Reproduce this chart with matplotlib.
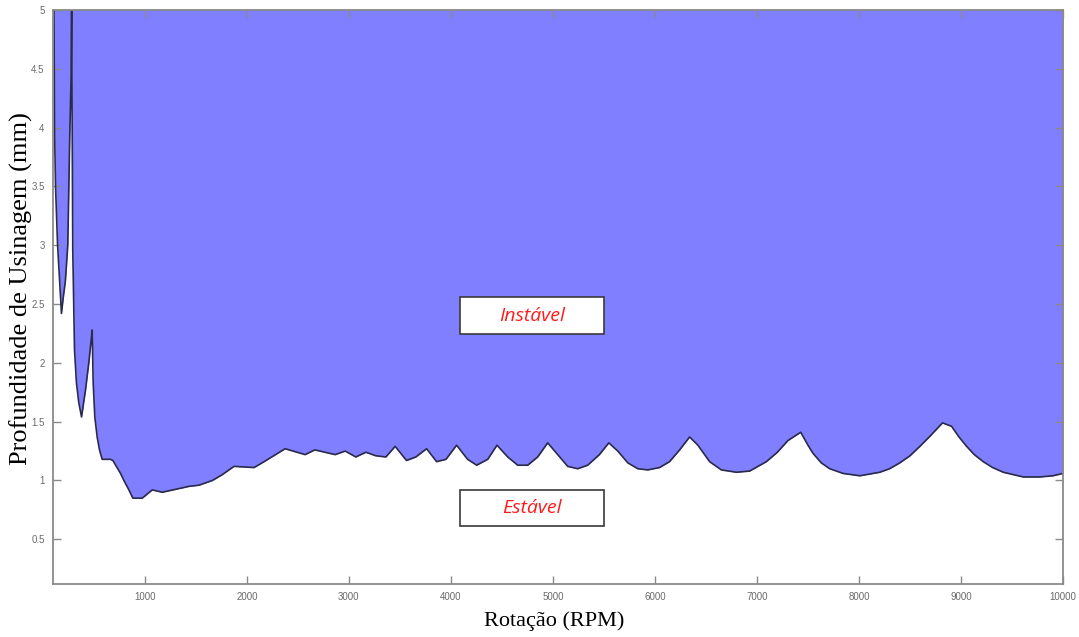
import matplotlib
matplotlib.use("Agg")
import matplotlib.pyplot as plt
from matplotlib.patches import Rectangle

# ---- data ----
rpm = [110, 115, 125, 145, 165, 183, 200, 222, 245, 265, 278, 281,
       285, 286, 294, 311, 330, 353, 380, 419, 451, 474, 484,
       494, 510, 533, 556, 582, 664, 687, 762, 795, 844, 883, 975,
       1073, 1171, 1433, 1531, 1662, 1760, 1874, 2071, 2169, 2375,
       2571, 2666, 2866, 2964, 3068, 3167, 3265, 3363, 3454, 3565,
       3657, 3762, 3860, 3952, 4056, 4164, 4253, 4361, 4452, 4557,
       4655, 4753, 4851, 4949, 5047, 5145, 5243, 5341, 5456, 5548,
       5636, 5734, 5832, 5930, 6045, 6143, 6242, 6340, 6421, 6536,
       6651, 6798, 6928, 7092, 7200, 7304, 7429, 7500, 7550, 7630, 7713,
       7844, 8008, 8204, 8300, 8400, 8500, 8597, 8700, 8819, 8908,
       8980, 9055, 9130, 9218, 9310, 9414, 9610, 9774, 9900, 10000]
depth = [5.0, 4.0, 3.5, 3.0, 2.7, 2.42, 2.55, 2.7, 3.0, 3.95, 4.45, 5.0,
         5.0, 4.4, 2.96, 2.11, 1.83, 1.66, 1.54, 1.77, 2.0, 2.19, 2.28,
         1.83, 1.54, 1.37, 1.26, 1.18, 1.18, 1.17, 1.06, 1.0, 0.92, 0.85, 0.85,
         0.92, 0.90, 0.95, 0.96, 1.0, 1.05, 1.12, 1.11, 1.16, 1.27,
         1.22, 1.26, 1.22, 1.25, 1.20, 1.24, 1.21, 1.20, 1.29, 1.17,
         1.20, 1.27, 1.16, 1.18, 1.30, 1.18, 1.13, 1.18, 1.30, 1.20,
         1.13, 1.13, 1.20, 1.32, 1.22, 1.12, 1.10, 1.13, 1.22, 1.32,
         1.25, 1.15, 1.10, 1.09, 1.11, 1.16, 1.26, 1.37, 1.30, 1.16,
         1.09, 1.07, 1.08, 1.16, 1.24, 1.34, 1.41, 1.30, 1.23, 1.15, 1.10,
         1.06, 1.04, 1.07, 1.10, 1.15, 1.21, 1.29, 1.38, 1.49, 1.46,
         1.37, 1.29, 1.22, 1.16, 1.11, 1.07, 1.03, 1.03, 1.04, 1.06]

x_ticks = [1000, 2000, 3000, 4000, 5000, 6000, 7000, 8000, 9000, 10000]
y_ticks = [0.5, 1, 1.5, 2, 2.5, 3, 3.5, 4, 4.5, 5]
y_tick_labels = ["0.5", "1", "1.5", "2", "2.5", "3", "3.5", "4", "4.5", "5"]
region_labels = ["Instável", "Estável"]

# ---- figure ----
fig = plt.figure(figsize=(10.79, 6.37), dpi=100)
ax = fig.add_axes([0.0491, 0.0832, 0.9361, 0.9011])

ax.fill_between(rpm, depth, 6.0, color="#7f7fff", linewidth=0)
ax.plot(rpm, depth, color="#2a2a4a", linewidth=1.2)

ax.set_xlim(100, 10000)
ax.set_ylim(0.12, 5.0)

ax.set_xticks(x_ticks)
ax.set_xticklabels([str(v) for v in x_ticks])
ax.set_yticks(y_ticks)
ax.set_yticklabels(y_tick_labels)

grey = "#8a8a8a"
for s in ax.spines.values():
    s.set_color(grey)
    s.set_linewidth(1.3)
ax.tick_params(direction="in", length=6, width=1.0, color=grey,
               labelcolor="#6a6a6a", labelsize=7, top=True, right=True,
               pad=6)
for lbl in ax.get_xticklabels() + ax.get_yticklabels():
    lbl.set_family("Liberation Sans")

fig.text(554 / 1079, 1 - 621 / 637, "Rotação (RPM)", family="Liberation Serif",
         fontsize=16, ha="center", va="center")
fig.text(21 / 1079, 1 - 289 / 637, "Profundidade de Usinagem (mm)",
         family="Liberation Serif", fontsize=19, rotation=90,
         ha="center", va="center")

# region label boxes
box_x0, box_w = 4092, 1404
for (y0, h, yc, txt) in [(2.245, 0.315, 2.40, region_labels[0]),
                         (0.612, 0.306, 0.765, region_labels[1])]:
    ax.add_patch(Rectangle((box_x0, y0), box_w, h, facecolor="white",
                           edgecolor="#3a3a3a", linewidth=1.2, zorder=5))
    ax.text(box_x0 + box_w / 2, yc, txt, color="#ff1a1a", style="italic",
            family="Open Sans", fontsize=14, ha="center", va="center",
            zorder=6)

fig.savefig("out.png", dpi=100)
